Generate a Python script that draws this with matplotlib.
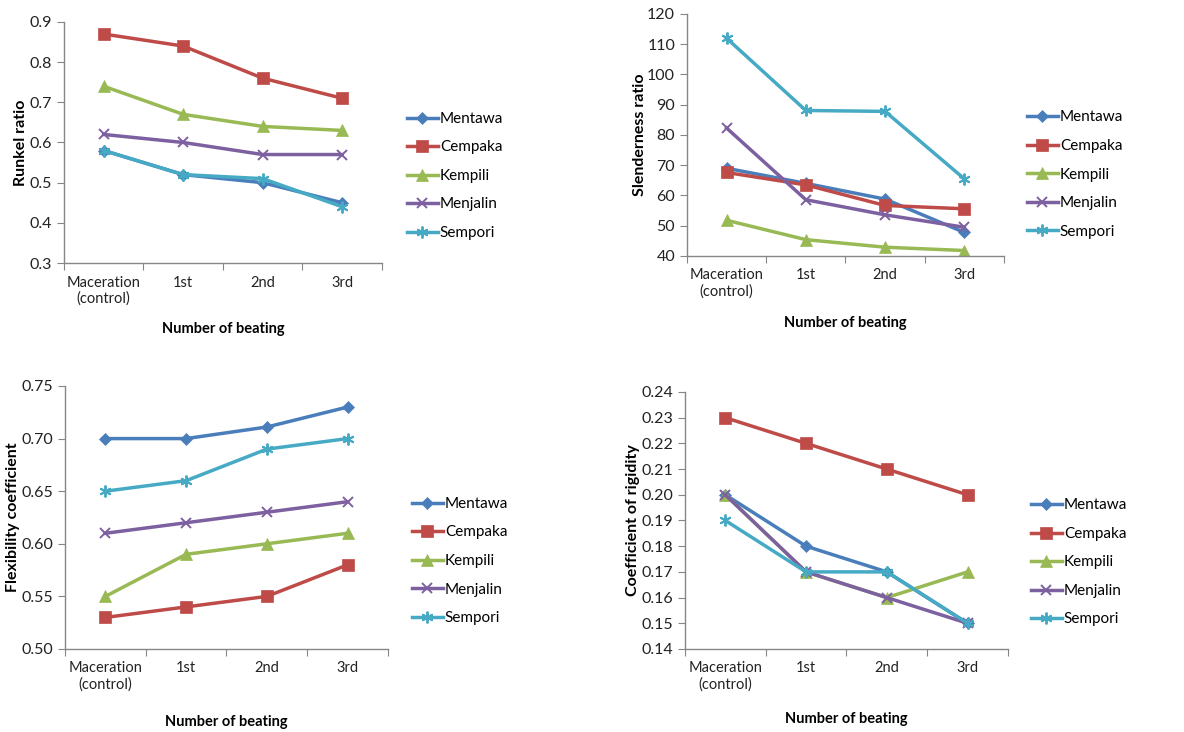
import matplotlib
matplotlib.use("Agg")
import matplotlib.pyplot as plt
from matplotlib.ticker import FormatStrFormatter, MultipleLocator

plt.rcParams['font.family'] = ['Lato', 'DejaVu Sans']

# beating stages and species
stages = ["Maceration\n(control)", "1st", "2nd", "3rd"]
species = ["Mentawa", "Cempaka", "Kempili", "Menjalin", "Sempori"]

# Runkel ratio
runkel_mentawa = [0.58, 0.52, 0.50, 0.45]
runkel_cempaka = [0.87, 0.84, 0.76, 0.71]
runkel_kempili = [0.74, 0.67, 0.64, 0.63]
runkel_menjalin = [0.62, 0.60, 0.57, 0.57]
runkel_sempori = [0.58, 0.52, 0.51, 0.44]

# Slenderness ratio
slender_mentawa = [69.0, 64.0, 58.8, 47.8]
slender_cempaka = [67.6, 63.5, 56.7, 55.6]
slender_kempili = [51.8, 45.4, 42.9, 41.8]
slender_menjalin = [82.3, 58.6, 53.6, 49.5]
slender_sempori = [112.0, 88.1, 87.8, 65.5]

# Flexibility coefficient
flex_mentawa = [0.70, 0.70, 0.711, 0.73]
flex_cempaka = [0.53, 0.54, 0.55, 0.58]
flex_kempili = [0.55, 0.59, 0.60, 0.61]
flex_menjalin = [0.61, 0.62, 0.63, 0.64]
flex_sempori = [0.65, 0.66, 0.69, 0.70]

# Coefficient of rigidity
rigid_mentawa = [0.20, 0.18, 0.17, 0.15]
rigid_cempaka = [0.23, 0.22, 0.21, 0.20]
rigid_kempili = [0.20, 0.17, 0.16, 0.17]
rigid_menjalin = [0.20, 0.17, 0.16, 0.15]
rigid_sempori = [0.19, 0.17, 0.17, 0.15]

colors = ["#4A7EBB", "#BE4B48", "#98B954", "#7D60A0", "#46AAC5"]
markers = ["D", "s", "^", "x", (6, 2, 0)]
msizes = [6.5, 8.5, 8.5, 7.5, 8.5]

fig = plt.figure(figsize=(11.84, 7.32), dpi=100)

panels = [
    # rect, series, ylabel, ylim, step, fmt, ylabel x, xlabel y, legend anchor
    ([0.054, 0.6407, 0.2686, 0.3293],
     [runkel_mentawa, runkel_cempaka, runkel_kempili, runkel_menjalin, runkel_sempori],
     "Runkel ratio", (0.3, 0.9), 0.1, "%.1f", -0.135, -0.274, (0.3438, 0.7596)),
    ([0.5802, 0.6503, 0.2677, 0.3306],
     [slender_mentawa, slender_cempaka, slender_kempili, slender_menjalin, slender_sempori],
     "Slenderness ratio", (40, 120), 10, "%d", -0.148, -0.277, (0.8674, 0.7616)),
    ([0.0549, 0.1134, 0.2728, 0.3593],
     [flex_mentawa, flex_cempaka, flex_kempili, flex_menjalin, flex_sempori],
     "Flexibility coefficient", (0.5, 0.75), 0.05, "%.2f", -0.161, -0.278, (0.348, 0.2336)),
    ([0.5785, 0.1134, 0.2728, 0.3511],
     [rigid_mentawa, rigid_cempaka, rigid_kempili, rigid_menjalin, rigid_sempori],
     "Coefficient of rigidity", (0.14, 0.24), 0.01, "%.2f", -0.161, -0.274, (0.8708, 0.2316)),
]

xpos = [i + 0.5 for i in range(len(stages))]

for rect, series, ylab, ylim, step, fmt, ylx, xly, anchor in panels:
    ax = fig.add_axes(rect)
    for vals, name, c, m, ms in zip(series, species, colors, markers, msizes):
        ax.plot(xpos, vals, color=c, lw=2.5, marker=m, markersize=ms,
                markeredgewidth=1.4 if m in ("x", (6, 2, 0)) else 0.5,
                markeredgecolor=c, markerfacecolor=c, label=name)
    ax.set_xlim(0, 4)
    ax.set_ylim(*ylim)
    ax.yaxis.set_major_locator(MultipleLocator(step))
    ax.yaxis.set_major_formatter(FormatStrFormatter(fmt))
    ax.set_xticks([0, 1, 2, 3, 4])
    ax.set_xticklabels([])
    ax.set_xticks(xpos, minor=True)
    ax.set_xticklabels(stages, minor=True, fontsize=10.5, color="#222222")
    ax.tick_params(axis="x", which="major", length=5, color="#868686", direction="out")
    ax.tick_params(axis="x", which="minor", length=0, pad=9)
    ax.tick_params(axis="y", length=5, color="#868686", labelsize=11.5, labelcolor="#222222")
    for s in ("top", "right"):
        ax.spines[s].set_visible(False)
    for s in ("left", "bottom"):
        ax.spines[s].set_color("#868686")
        ax.spines[s].set_linewidth(1.0)
    ax.set_ylabel(ylab, fontsize=11.5, fontweight="bold")
    ax.yaxis.label.set_va("center")
    ax.yaxis.set_label_coords(ylx, 0.5)
    ax.set_xlabel("Number of beating", fontsize=10.5, fontweight="bold")
    ax.xaxis.label.set_va("center")
    ax.xaxis.set_label_coords(0.5, xly)
    ax.legend(loc="center left", bbox_to_anchor=anchor, bbox_transform=fig.transFigure,
              frameon=False, fontsize=11, labelspacing=0.95, handlelength=2.0,
              handletextpad=0.15, borderpad=0, borderaxespad=0)

fig.savefig("out.png", dpi=100)
